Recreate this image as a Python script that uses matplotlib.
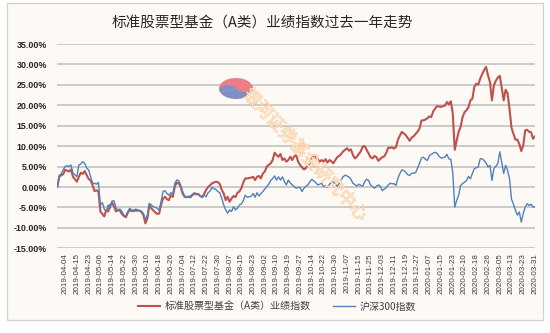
import numpy as np
import matplotlib
matplotlib.use('Agg')
import matplotlib.pyplot as plt
from matplotlib.patches import Rectangle, Wedge
from matplotlib.lines import Line2D
from matplotlib.ticker import FuncFormatter
import matplotlib.patheffects as pe

plt.rcParams['font.family'] = ['Noto Sans CJK SC', 'DejaVu Sans']

title = '标准股票型基金（A类）业绩指数过去一年走势'
series_names = ['标准股票型基金（A类）业绩指数', '沪深300指数']
watermark = '银河证券基金研究中心'

tick_labels = ['2019-04-04', '2019-04-15', '2019-04-23', '2019-05-06', '2019-05-14',
               '2019-05-22', '2019-05-30', '2019-06-10', '2019-06-18', '2019-06-26',
               '2019-07-04', '2019-07-12', '2019-07-22', '2019-07-30', '2019-08-07',
               '2019-08-15', '2019-08-23', '2019-09-02', '2019-09-10', '2019-09-19',
               '2019-09-27', '2019-10-14', '2019-10-22', '2019-10-30', '2019-11-07',
               '2019-11-15', '2019-11-25', '2019-12-03', '2019-12-11', '2019-12-19',
               '2019-12-27', '2020-01-07', '2020-01-15', '2020-01-23', '2020-02-10',
               '2020-02-18', '2020-02-26', '2020-03-05', '2020-03-13', '2020-03-23',
               '2020-03-31']

# daily returns since base date (%), 2019-03-29 .. 2020-03-31
fund = [0.0, 2.5, 2.9, 3.1, 4.2, 4.0, 3.8, 4.3, 2.5, 1.9, 1.3, 2.5, 3.5, 3.2, 3.9, 2.9,
        2.0, 1.6, 0.5, -1.0, -0.8, -1.1, -6.0,
        -6.6, -7.2, -5.6, -6.0, -4.4, -3.8, -4.8, -6.0, -5.6, -5.8, -6.6, -7.1, -7.4,
        -6.3, -5.6, -5.9, -5.9, -5.7, -5.8,
        -5.8, -6.1, -6.9, -8.9, -7.7, -4.4, -5.2, -5.7, -6.2, -6.6, -6.5, -4.4, -2.8,
        -2.4, -3.0, -3.2, -2.0, -2.4, 0.1, 1.1, 0.9, 0.1, -1.6, -2.4, -2.5, -2.4, -2.5,
        -2.0, -1.6, -1.8, -1.7, -2.2, -2.5, -1.7, -0.7, 0.0, 0.4, 0.9, 1.1, 1.3, 1.2,
        0.7, -0.7, -1.6, -3.2, -2.4, -3.6, -2.8, -2.2, -2.5, -1.4, -1.1, -0.3, 1.1,
        2.1, 2.1, 2.2,
        2.3, 2.5, 1.7, 2.5, 2.7, 2.1, 3.3, 3.8, 5.0, 5.4, 5.8, 6.6, 8.4, 7.8, 7.4, 8.1,
        6.6, 7.0, 6.2, 6.6, 7.4, 6.6, 7.5, 7.8, 6.2, 5.4, 4.8, 4.3, 4.6, 5.4, 5.8, 7.0,
        7.8, 7.3, 6.8, 6.2, 6.6, 6.2, 6.8, 6.0, 6.6, 6.3,
        5.8, 6.6, 7.3, 7.6, 8.1, 8.7, 9.1, 9.5, 8.9, 9.2, 7.8, 7.0, 7.4, 8.1, 8.7, 9.9,
        10.0, 9.1, 8.2, 7.3, 7.0, 7.6, 7.3, 6.4, 6.9, 7.3, 7.5, 8.3, 9.6, 9.6, 9.7, 9.4,
        9.8, 11.6, 12.6, 13.5, 13.1, 12.7, 12.0, 11.3, 12.1, 12.4, 13.0, 13.5, 14.3,
        16.3, 16.3, 16.5, 16.8, 17.3, 17.1, 18.5, 19.2, 19.8, 19.7, 19.6, 19.8,
        19.9, 20.8, 20.2, 21.0, 18.0, 9.1,
        11.4, 13.5, 14.7, 17.1, 18.3, 18.8, 19.5, 21.2, 21.6, 24.5, 25.3, 25.0, 26.5,
        27.6, 28.6, 29.4, 27.3, 25.7, 21.2, 24.9, 26.0, 26.8, 27.2, 24.3, 21.2, 23.8,
        22.9, 19.0, 14.5, 13.0, 11.6, 11.6, 10.5, 8.8, 10.2, 13.9, 14.0, 13.5, 13.4,
        11.8, 12.4]

hs300 = [0.0, 2.9, 3.2, 4.2, 5.0, 5.2, 5.0, 5.4, 3.4, 3.0, 2.5, 5.4, 5.6, 6.2, 5.8, 4.6,
         4.2, 2.5, 0.9, 0.9, 0.7, 1.1, -4.4,
         -3.8, -5.4, -6.0, -4.4, -5.2, -3.4, -3.4, -5.2, -5.6, -5.4, -6.0, -6.9, -7.1,
         -6.0, -5.2, -5.6, -5.7, -5.4, -5.6,
         -5.8, -5.9, -6.5, -8.0, -6.9, -4.0, -4.4, -4.8, -5.0, -5.2, -5.7, -3.6, -1.1,
         -0.9, -1.6, -2.0, -1.4, -1.7, 0.9, 1.7, 1.6, 0.5, -1.1, -2.2, -2.4, -2.3, -2.2,
         -1.8, -1.4, -1.6, -1.7, -2.2, -2.4, -2.0, -2.4, -1.4, -1.0, -0.1, -0.4, -0.6,
         -1.1, -1.4, -2.8, -4.4, -5.6, -6.4, -5.6, -6.0, -4.8, -5.6, -5.2, -4.4, -4.2,
         -3.3, -2.0, -2.5, -2.4,
         -2.3, -1.6, -2.5, -1.4, -2.2, -1.6, -1.1, -0.5, 0.1, 0.7, 1.6, 2.1, 2.7, 1.7,
         2.5, 1.7, 2.5, 1.3, 0.5, 1.7, 1.0, 0.5, 0.1, -0.3, -0.1, -0.1, -1.1, -0.3, 0.2,
         0.5, 1.3, 1.9, 1.5, 1.1, 0.5, 0.7, 0.9, 0.1, 0.3, -0.1, 0.7, 1.0,
         1.3, 0.7, 0.2, 0.9, 1.7, 2.5, 2.9, 2.7, 2.4, 1.9, 0.9, 0.6, 0.2, 0.7, 0.4, 0.2,
         1.3, 1.9, 1.6, 0.5, 0.1, -0.3, 0.2, 0.5, 0.2, -0.9, -0.5, -0.2, 0.5, 0.9, 0.8,
         0.8, 0.4, 2.2, 3.3, 4.2, 4.0, 3.6, 3.0, 2.8, 3.4, 3.4, 3.5, 4.6, 5.8, 7.1, 7.3,
         6.8, 6.5, 7.6, 8.0, 8.3, 8.5, 8.2, 7.5, 7.1, 7.2,
         7.3, 8.0, 6.9, 6.8, 3.5, -4.9,
         -3.3, -2.0, 0.4, 0.8, 1.2, 1.6, 2.6, 2.0, 3.3, 4.5, 4.7, 4.9, 6.9, 6.9, 6.5,
         5.9, 4.9, 5.3, 1.6, 4.5, 5.1, 5.7, 8.6, 6.1, 3.3, 5.3, 4.1, 2.0, -3.0, -4.2,
         -5.7, -6.9, -6.1, -8.6, -6.5, -4.9, -4.1, -4.5, -4.2, -4.9, -4.9]

first_label_pos = 4
label_step = 6

W, H = 550, 333
BG = '#FDFAF5'
fig = plt.figure(figsize=(W / 100, H / 100), dpi=100)
fig.patch.set_facecolor('white')

# chart frame
fig.add_artist(Rectangle((7 / W, 1 - 320 / H), 536 / W, 317 / H, transform=fig.transFigure,
                         facecolor=BG, edgecolor='#D2D2D2', lw=0.9, zorder=0))

ax = fig.add_axes([57.3 / W, 1 - 248.3 / H, (535 - 57.3) / W, (248.3 - 44) / H])
ax.set_facecolor('none')

ax.plot(np.arange(len(fund)), fund, color='#C0504D', lw=1.5, zorder=3, solid_joinstyle='round')
ax.plot(np.arange(len(hs300)), hs300, color='#4F81BD', lw=1.0, zorder=3, solid_joinstyle='round')

ax.set_xlim(0, len(fund) - 1)
ax.set_ylim(-15, 35)
ax.set_yticks(np.arange(-15, 36, 5))
ax.yaxis.set_major_formatter(FuncFormatter(lambda v, p: f'{v:.2f}%'))
ax.yaxis.grid(True, color='#BDBDBD', lw=1.1)
ax.set_axisbelow(True)
for s in ax.spines.values():
    s.set_visible(False)

pos = np.arange(first_label_pos, len(fund), label_step)[:len(tick_labels)]
ax.set_xticks(pos)
ax.set_xticklabels(tick_labels, rotation=90, fontsize=5.8, color='#404040',
                   family=['Liberation Sans', 'DejaVu Sans'])
ax.tick_params(axis='x', length=0, pad=3.4)
ax.tick_params(axis='y', length=0, pad=7.5)
for t in ax.get_yticklabels():
    t.set_fontsize(6.4)
    t.set_fontweight('bold')
    t.set_family(['Liberation Sans', 'DejaVu Sans'])
    t.set_color('#262626')

fig.text(262.5 / W, 1 - 22.5 / H, title, ha='center', va='center', fontsize=10.5,
         color='#262626')

handles = [Line2D([], [], color='#C0504D', lw=1.5), Line2D([], [], color='#4F81BD', lw=1.0)]
leg = fig.legend(handles, series_names, loc='center', bbox_to_anchor=(277 / W, 1 - 306.5 / H),
                 ncol=2, frameon=False, fontsize=7.2, handlelength=2.2, handletextpad=0.5,
                 columnspacing=2.2)
for t in leg.get_texts():
    t.set_color('#404040')

# watermark text (outlined, light)
wm = fig.text(305 / W, 1 - 155 / H, watermark, rotation=-47, fontsize=12.5, color='#FFEBD6',
              alpha=0.8, ha='center', va='center', rotation_mode='anchor', zorder=5)
wm.set_path_effects([pe.Stroke(linewidth=0.5, foreground='#FAAA60'), pe.Normal()])

# watermark logo
lax = fig.add_axes([219 / W, 1 - 99 / H, 34 / W, 21 / H])
lax.set_xlim(-1, 1)
lax.set_ylim(-1, 1)
lax.axis('off')
red_c, blue_c = '#EE7E85', '#7F8FC6'
ang = 20
c, s_ = np.cos(np.radians(ang)), np.sin(np.radians(ang))
lax.add_patch(Wedge((0, 0), 1, ang, ang + 180, color=red_c, lw=0))
lax.add_patch(Wedge((0, 0), 1, ang + 180, ang + 360, color=blue_c, lw=0))
lax.add_patch(Wedge((0.5 * c, 0.5 * s_), 0.5, ang + 180, ang + 360, color=red_c, lw=0))
lax.add_patch(Wedge((-0.5 * c, -0.5 * s_), 0.5, ang, ang + 180, color=blue_c, lw=0))

fig.savefig('out.png', dpi=100, facecolor='white')
